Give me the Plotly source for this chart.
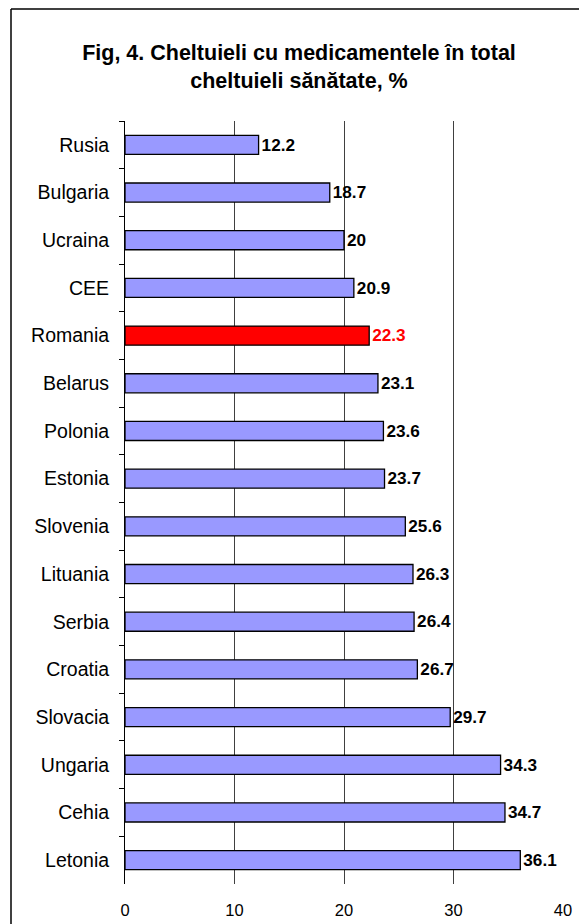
import plotly.graph_objects as go

countries = ["Rusia", "Bulgaria", "Ucraina", "CEE", "Romania", "Belarus", "Polonia",
             "Estonia", "Slovenia", "Lituania", "Serbia", "Croatia", "Slovacia",
             "Ungaria", "Cehia", "Letonia"]
shares = [12.2, 18.7, 20, 20.9, 22.3, 23.1, 23.6, 23.7, 25.6, 26.3, 26.4, 26.7,
          29.7, 34.3, 34.7, 36.1]
x_ticks = [0, 10, 20, 30, 40]

highlight = "Romania"
bar_colors = ["#FF0000" if c == highlight else "#9999FF" for c in countries]
label_colors = ["#FF0000" if c == highlight else "#000000" for c in countries]
labels = [f"{v:g}" for v in shares]

W, H = 579, 924
ML, MR, MT, MB = 125, 16, 121, 40
PW, PH = W - ML - MR, H - MT - MB

fig = go.Figure(go.Bar(
    x=shares,
    y=countries,
    orientation="h",
    marker=dict(color=bar_colors, line=dict(color="#000000", width=1.3)),
    text=labels,
    textposition="outside",
    textfont=dict(family="Liberation Sans, Arial", size=18, color=label_colors, weight="bold"),
    cliponaxis=False,
    hoverinfo="skip",
))

# frame edges (left and top); the right and bottom edges lie outside the page
frame_left = (11 - ML) / PW
frame_top = (H - 9 - MB) / PH
frame_line = dict(color="#000000", width=1.5)

fig.update_layout(
    width=W, height=H,
    margin=dict(l=ML, r=MR, t=MT, b=MB, autoexpand=False),
    paper_bgcolor="#FFFFFF",
    plot_bgcolor="#FFFFFF",
    bargap=0.6,
    showlegend=False,
    font=dict(family="Liberation Sans, Arial", color="#000000"),
    title=dict(
        text="Fig, 4. Cheltuieli cu medicamentele în total<br>cheltuieli sănătate, %",
        x=299 / W, xanchor="center", y=1 - 60 / H, yanchor="middle",
        font=dict(size=21.5, weight="bold", color="#000000"),
    ),
    xaxis=dict(
        range=[0, 40],
        tickvals=x_ticks,
        showgrid=True, gridcolor="#404040", gridwidth=1,
        zeroline=False, showline=False,
        ticks="outside", ticklen=11, tickcolor="rgba(0,0,0,0)",
        tickfont=dict(size=16.5),
        automargin=False,
        fixedrange=True,
    ),
    yaxis=dict(
        autorange="reversed",
        showline=True, linecolor="#000000", linewidth=1,
        ticks="outside", tickson="boundaries", ticklen=5, tickcolor="#000000",
        tickfont=dict(size=19.5),
        ticklabelstandoff=11,
        showgrid=False,
        automargin=False,
        fixedrange=True,
    ),
    shapes=[
        dict(type="line", xref="paper", yref="paper",
             x0=frame_left, x1=frame_left, y0=-(MB + 10) / PH, y1=frame_top,
             line=frame_line, layer="below"),
        dict(type="line", xref="paper", yref="paper",
             x0=frame_left, x1=(W + 10 - ML) / PW, y0=frame_top, y1=frame_top,
             line=frame_line, layer="below"),
    ],
)

fig.write_html("out.html")
